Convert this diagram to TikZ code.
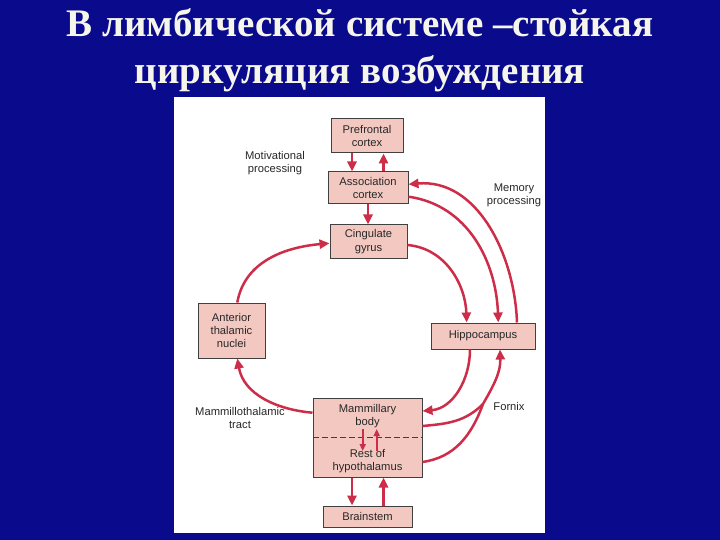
\documentclass[tikz,border=0pt]{standalone}
\usepackage{fontspec}
\setmainfont{Liberation Serif}
\newfontfamily\lab{Liberation Sans}
\usetikzlibrary{arrows.meta}
\definecolor{bgblue}{RGB}{10,10,140}
\definecolor{boxfill}{RGB}{242,200,192}
\definecolor{arrred}{RGB}{205,45,72}
\definecolor{labgray}{RGB}{40,40,40}
\definecolor{ttlwhite}{RGB}{245,245,235}
\tikzset{
  box/.style={draw=black!75, line width=1pt, fill=boxfill, inner sep=0pt, align=center,
    font=\lab\fontsize{11.2}{13.3}\selectfont, text=labgray},
  lbl/.style={align=center, font=\lab\fontsize{11.2}{13.3}\selectfont, text=labgray, inner sep=0pt},
  arr/.style={draw=arrred, line width=2.5pt, -{Triangle[length=10pt,width=9pt]}},
  lin/.style={draw=arrred, line width=2.5pt},
  ttl/.style={font=\bfseries\fontsize{39}{44}\selectfont, text=ttlwhite, inner sep=0pt, anchor=base}
}
\begin{document}
\begin{tikzpicture}[x=1pt,y=-1pt]
\fill[bgblue] (0,0) rectangle (720,540);
\useasboundingbox (0,0) rectangle (720,540);
\fill[white] (174,97) rectangle (545,533);
% title
\node[ttl] (t1) at (360,37) {В лимбической системе –стойкая};
\node[ttl] (t2) at (360,84) {циркуляция возбуждения};
% boxes
\node[box, minimum width=72pt, minimum height=34pt] (pf) at (367,136) {Prefrontal\\cortex};
\node[box, minimum width=80pt, minimum height=32pt] (as) at (368,188) {Association\\cortex};
\node[box, minimum width=77pt, minimum height=33pt] (cg) at (368.5,241.5) {Cingulate\\gyrus};
\node[box, minimum width=67pt, minimum height=55pt] (at) at (231.5,330.5) {Anterior\\thalamic\\nuclei};
\node[box, minimum width=104pt, minimum height=26pt] (hp) at (483,336) {Hippocampus};
\node[box, minimum width=109pt, minimum height=79pt] (mb) at (367.5,437.5) {};
\node[lbl] (mbt) at (367.5,416) {Mammillary\\body};
\node[lbl] (rht) at (367.5,461) {Rest of\\hypothalamus};
\node[box, minimum width=89pt, minimum height=21pt] (bs) at (367.5,516.5) {Brainstem};
\draw[black!75, line width=1pt, dash pattern=on 6pt off 3pt] (mb.west |- 0,437) -- (mb.east |- 0,437);
% labels
\node[lbl] (mot) at (275,163) {Motivational\\processing};
\node[lbl] (mem) at (514,195) {Memory\\processing};
\node[lbl] (mtt) at (240,418) {Mammillothalamic\\tract};
\node[lbl] (fx) at (509,406) {Fornix};
% x guides
\coordinate (xa) at (352,0);
\coordinate (xb) at (383.5,0);
\coordinate (xc) at (368,0);
\coordinate (xd) at (362.7,0);
\coordinate (xe) at (376.7,0);
\coordinate (xat) at (237.3,0);
\coordinate (xh1) at (466.7,0);
\coordinate (xh2) at (498.3,0);
\coordinate (xh3) at (517,0);
\coordinate (xh4) at (470,0);
\coordinate (xh5) at (500,0);
\coordinate (ycg) at (0,243.3);
\coordinate (ycg2) at (0,245);
\coordinate (yas1) at (0,184.3);
\coordinate (yas2) at (0,196.7);
\coordinate (ymb1) at (0,411);
\coordinate (ymb2) at (0,426);
\coordinate (ymb3) at (0,462);
\coordinate (ymb4) at (0,412.7);
\coordinate (y1) at (0,429);
\coordinate (y2) at (0,451);
\coordinate (fxm) at (483,404);
% straight arrows
\draw[arr] (pf.south -| xa) -- (as.north -| xa);
\draw[arr] (as.north -| xb) -- (pf.south -| xb);
\draw[arr] (as.south -| xc) -- (cg.north -| xc);
\draw[arr] (mb.south -| xa) -- (bs.north -| xa);
\draw[arr] (bs.north -| xb) -- (mb.south -| xb);
\draw[draw=arrred, line width=2pt, -{Triangle[length=7pt,width=6pt]}] (xd |- y1) -- (xd |- y2);
\draw[draw=arrred, line width=2pt, -{Triangle[length=7pt,width=6pt]}] (xe |- y2) -- (xe |- y1);
% curved arrows
\draw[arr] (at.north -| xat) to[out=80,in=185] (cg.west |- ycg);
\draw[arr] (cg.east |- ycg2) to[out=-5,in=92] (hp.north -| xh1);
\draw[arr] (as.east |- yas2) to[out=-8,in=92] (hp.north -| xh2);
\draw[arr] (hp.north -| xh3) to[out=92,in=5] (as.east |- yas1);
\draw[arr] (hp.south -| xh4) to[out=-90,in=5] (mb.east |- ymb1);
\draw[lin] (mb.east |- ymb2) to[out=5,in=225] (fxm);
\draw[lin] (mb.east |- ymb3) to[out=8,in=250] (fxm);
\draw[arr] (fxm) to[out=60,in=-88] (hp.south -| xh5);
\draw[arr] (mb.west |- ymb4) to[out=175,in=-80] (at.south -| xat);
\end{tikzpicture}
\end{document}
